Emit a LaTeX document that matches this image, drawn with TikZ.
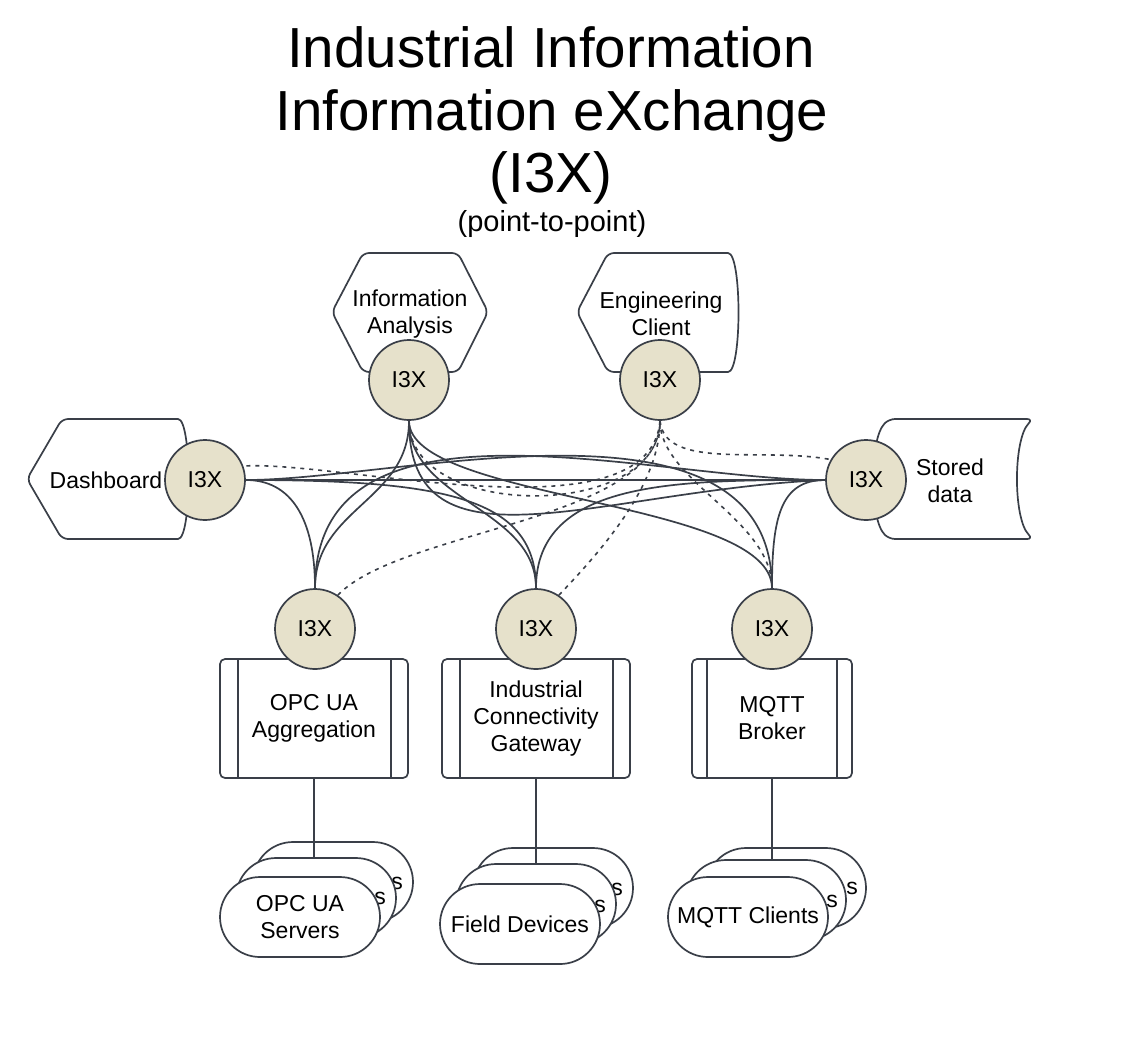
\documentclass[tikz,border=0pt]{standalone}
\usepackage{fontspec}
\setmainfont{Liberation Sans}
\usetikzlibrary{calc}
\definecolor{ln}{RGB}{58,63,72}
\definecolor{bei}{RGB}{230,225,203}
\pgfdeclarelayer{bg}
\pgfsetlayers{bg,main}
\tikzset{
  shp/.style={draw=ln, line width=1.7pt, fill=white, rounded corners=6pt},
  i3x/.style={circle, draw=ln, line width=1.7pt, fill=bei, minimum size=80pt, inner sep=0pt, font=\fontsize{23}{27}\selectfont},
  lbl/.style={align=center, inner sep=0pt, font=\fontsize{23}{27}\selectfont},
  boxn/.style={draw=ln, line width=1.7pt, fill=white, rounded corners=5pt, minimum height=119pt, inner sep=0pt, align=center, font=\fontsize{23}{27}\selectfont},
  ovaln/.style={draw=ln, line width=1.7pt, fill=white, rounded corners=40pt, minimum width=160pt, minimum height=80pt, inner sep=0pt, align=center, font=\fontsize{23}{27}\selectfont},
  innerl/.style={draw=ln, line width=1.7pt},
  conn/.style={draw=ln, line width=1.7pt},
  dotc/.style={draw=ln, line width=1.6pt, dash pattern=on 4pt off 5pt},
  ttl/.style={anchor=base, inner sep=0pt, font=\fontsize{56.5}{60}\selectfont},
  subttl/.style={anchor=base, inner sep=0pt, font=\fontsize{29}{32}\selectfont},
}
\begin{document}
\begin{tikzpicture}[x=1pt,y=-1pt]
\useasboundingbox (0,0) rectangle (1123,1050);
\begin{pgfonlayer}{bg}
\fill[white] (0,0) rectangle (1123,1050);
\end{pgfonlayer}

% titles
\node[ttl] (t1) at (551,67) {Industrial Information};
\node[ttl] (t2) at (552,130) {Information eXchange};
\node[ttl] (t3) at (551,192) {(I3X)};
\node[subttl] (t4) at (552,231) {(point-to-point)};

% client shapes
\draw[shp] (363,253) -- (458,253) -- (488,312) -- (458,372) -- (363,372) -- (332,312) -- cycle;
\node[lbl] (iaL) at (410,314) {Information\\Analysis};

\draw[shp] (608,253) -- (722,253) .. controls (742,253) and (742,372) .. (722,372) -- (608,372) -- (577,312) -- cycle;
\node[lbl] (ecL) at (661,314) {Engineering\\Client};

\draw[shp] (62,419) -- (172,419) .. controls (192,419) and (192,539) .. (172,539) -- (62,539) -- (27,479) -- cycle;
\node[lbl] (dbL) at (106,480) {Dashboard};

\draw[shp] (960,419) -- (1033,419) .. controls (1013,439) and (1013,519) .. (1033,539) -- (889,539) .. controls (869,519) and (869,439) .. (889,419) -- cycle;
\node[lbl] (sdL) at (950,481) {Stored\\data};

% server boxes
\node[boxn, minimum width=188pt] (b1) at (314,718.5) {OPC UA\\Aggregation};
\draw[innerl] ([xshift=19pt]b1.north west) -- ([xshift=19pt]b1.south west);
\draw[innerl] ([xshift=-18pt]b1.north east) -- ([xshift=-18pt]b1.south east);
\node[boxn, minimum width=188pt] (b2) at (536,718.5) {Industrial\\Connectivity\\Gateway};
\draw[innerl] ([xshift=19pt]b2.north west) -- ([xshift=19pt]b2.south west);
\draw[innerl] ([xshift=-18pt]b2.north east) -- ([xshift=-18pt]b2.south east);
\node[boxn, minimum width=160pt] (b3) at (772,718.5) {MQTT\\Broker};
\draw[innerl] ([xshift=16pt]b3.north west) -- ([xshift=16pt]b3.south west);
\draw[innerl] ([xshift=-16pt]b3.north east) -- ([xshift=-16pt]b3.south east);

% I3X endpoints
\node[i3x] (iaC) at (409,380) {I3X};
\node[i3x] (ecC) at (660,380) {I3X};
\node[i3x] (dbC) at (205,480) {I3X};
\node[i3x] (sdC) at (866,480) {I3X};
\node[i3x] (oaC) at (315,629) {I3X};
\node[i3x] (icgC) at (536,629) {I3X};
\node[i3x] (mbC) at (772,629) {I3X};

% stacked ovals: OPC UA Servers
\node[ovaln] (opcB) at (333,882) {};
\node[lbl] (opcBt) at (397,883) {s};
\node[ovaln] (opcM) at (316,898) {};
\node[lbl] (opcMt) at (380,898) {s};
\node[ovaln] (opcF) at (300,917) {OPC UA\\Servers};
\draw[innerl, line width=1.2pt] (b1.south) -- (b1.south |- opcM.north);

% stacked ovals: Field Devices
\node[ovaln] (fdB) at (553,888) {};
\node[lbl] (fdBt) at (617,889) {s};
\node[ovaln] (fdM) at (536,904) {};
\node[lbl] (fdMt) at (600,906) {s};
\node[ovaln] (fdF) at (520,924) {Field Devices};
\draw[innerl, line width=1.2pt] (b2.south) -- (b2.south |- fdM.north);

% stacked ovals: MQTT Clients
\node[ovaln] (mqB) at (786,888) {};
\node[lbl] (mqBt) at (852,888) {s};
\node[ovaln] (mqM) at (766,900) {};
\node[lbl] (mqMt) at (832,901) {s};
\node[ovaln] (mqF) at (748,917) {MQTT Clients};
\draw[innerl, line width=1.2pt] (b3.south) -- (b3.south |- mqM.north);

% connectors
\begin{pgfonlayer}{bg}
\draw[conn] (dbC.east) -- (sdC.west);
\draw[conn] (dbC.east) .. controls +(45,0) and +(0,-70) .. (oaC.north);
\draw[conn] (dbC.east) .. controls +(200,0) and +(0,-90) .. (icgC.north);
\draw[conn] (dbC.east) .. controls +(155,0) and +(0,-209) .. (mbC.north);
\draw[conn] (iaC.south) .. controls +(0,80) and +(0,-80) .. (oaC.north);
\draw[conn] (iaC.south) .. controls +(0,80) and +(0,-80) .. (icgC.north);
\draw[conn] (iaC.south) .. controls +(0,80) and +(0,-89) .. (mbC.north);
\draw[conn] (iaC.south) .. controls +(0,160) and +(-226,10) .. (sdC.west);
\draw[conn] (oaC.north) .. controls +(0,-209) and +(-176,0) .. (sdC.west);
\draw[conn] (icgC.north) .. controls +(0,-109) and +(-146,0) .. (sdC.west);
\draw[conn] (mbC.north) .. controls +(0,-70) and +(-45,0) .. (sdC.west);
\draw[dotc] (ecC.south) .. controls +(-10,120) and +(97,-6) .. (dbC.20);
\draw[dotc] (iaC.south) .. controls +(0,100) and +(0,100) .. (ecC.south);
\draw[dotc] (oaC.56) .. controls +(63,-66) and +(0,100) .. (ecC.south);
\draw[dotc] (icgC.56) .. controls +(50,-52) and +(0,60) .. (ecC.south);
\draw[dotc] (ecC.south) .. controls +(0,60) and +(0,-69) .. (mbC.north);
\draw[dotc] (ecC.south) .. controls +(5,50) and +(-67,-13) .. (sdC.150);
\end{pgfonlayer}
\end{tikzpicture}
\end{document}
